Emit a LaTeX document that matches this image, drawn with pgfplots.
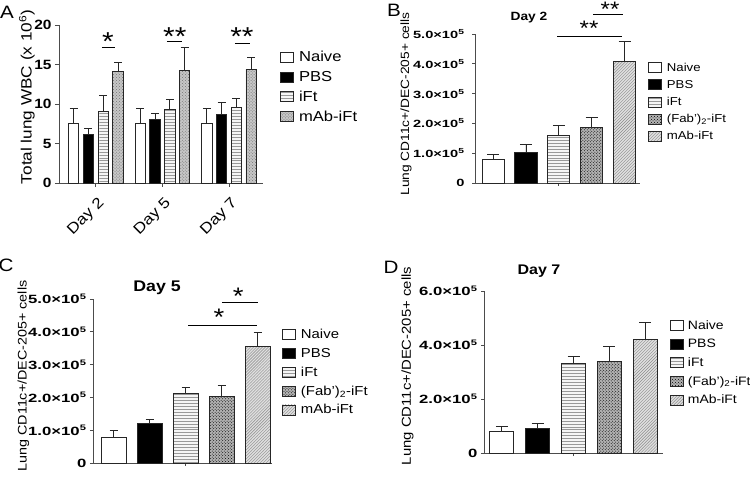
\documentclass[border=0pt]{standalone}
\usepackage{fontspec}
\setmainfont[FakeStretch=1.15]{Liberation Sans}
\newfontfamily\tickfont[FakeStretch=1.4]{Liberation Sans}
\usepackage{pgfplots}
\pgfplotsset{compat=1.18}
\usetikzlibrary{patterns}
\newcommand{\fs}[1]{\fontsize{#1}{#1}\selectfont}
\pgfplotsset{
  panel/.style={scale only axis, axis lines=left,
    axis line style={-, draw=black!70, line width=0.9bp},
    tick style={draw=black!70, line width=0.8bp}, tick align=outside,
    major tick length=4bp, clip=false, ymin=0,
    /pgf/number format/assume math mode=true,
    legend cell align=left,
    legend image code/.code={\draw[##1, draw=black!85, line width=0.8bp] (0bp,-5bp) rectangle (13bp,5bp);}},
  bars/.style={ybar, bar shift=0pt, draw=black!85, line width=0.9bp,
    error bars/y dir=plus, error bars/y explicit,
    error bars/error bar style={draw=black!85, line width=0.9bp, fill=none},
    error bars/error mark options={rotate=90, draw=black!85, line width=0.9bp, mark size=#1}},
  naive/.style={fill=white},
  pbs/.style={fill=black},
  ift/.style={fill=gray!8, postaction={pattern=horizontal lines, pattern color=gray!80}},
  fab/.style={fill=gray!60, postaction={pattern=crosshatch dots, pattern color=black}},
  mab/.style={fill=gray!25, postaction={pattern=north east lines, pattern color=gray!90}},
  mabA/.style={fill=gray!45, postaction={pattern=crosshatch dots, pattern color=black!55}},
}
\begin{document}
\begin{tikzpicture}
\useasboundingbox (0,0) rectangle (750bp,481bp);
% ---------------- Panel A ----------------
\begin{axis}[panel, at={(59bp,298bp)}, anchor=south west, width=204bp, height=158bp,
  xmin=-0.99, xmax=12.8, ymax=20, ytick={0,5,10,15,20}, bar width=0.7,
  xtick={1.5,6,10.5}, xticklabels={Day 2,Day 5,Day 7},
  xticklabel style={rotate=45, anchor=north east, font=\fs{15}, xshift=-2bp, yshift=-4bp},
  yticklabel style={font=\bfseries\fs{13.5}},
  legend style={at={(1.069,0.86)}, anchor=north west, draw=none, fill=none,
    font=\fs{14.5}, row sep=4bp, column sep=3bp}]
\addplot[bars=4bp, naive] coordinates {(0,7.5) +- (0,1.9) (4.5,7.5) +- (0,1.9) (9,7.5) +- (0,1.9)};
\addplot[bars=4bp, pbs] coordinates {(1,6.1) +- (0,0.8) (5.5,8.1) +- (0,0.7) (10,8.7) +- (0,1.5)};
\addplot[bars=4bp, ift] coordinates {(2,9.0) +- (0,2.1) (6.5,9.3) +- (0,1.3) (11,9.6) +- (0,1.1)};
\addplot[bars=4bp, mabA] coordinates {(3,14.1) +- (0,1.1) (7.5,14.3) +- (0,2.9) (12,14.4) +- (0,1.5)};
\legend{Naive,PBS,iFt,mAb-iFt}
\draw[line width=0.9bp] (axis cs:1.91,17.1) -- (axis cs:2.8,17.1);
\draw[line width=0.9bp] (axis cs:6.3,17.9) -- (axis cs:7.3,17.9);
\draw[line width=0.9bp] (axis cs:10.9,17.7) -- (axis cs:11.9,17.7);
\node[anchor=north, inner sep=0, font=\fs{26}] at (axis cs:2.32,19.0) {*};
\node[anchor=north, inner sep=0, font=\fs{26}] at (axis cs:6.84,19.7) {**};
\node[anchor=north, inner sep=0, font=\fs{26}] at (axis cs:11.37,19.7) {**};
\end{axis}
% ---------------- Panel B ----------------
\begin{axis}[panel, at={(475bp,298bp)}, anchor=south west, width=165bp, height=149bp,
  xmin=-0.55, xmax=4.47, ymax=5, ytick={0,1,2,3,4,5}, bar width=0.67,
  yticklabels={0,{1.0×10\textsuperscript{5}},{2.0×10\textsuperscript{5}},{3.0×10\textsuperscript{5}},{4.0×10\textsuperscript{5}},{5.0×10\textsuperscript{5}}},
  yticklabel style={font=\tickfont\bfseries\fs{10.5}, xshift=-4bp},
  xtick={2}, xticklabels={}, major tick length=3bp,
  legend style={at={(1.03,0.835)}, anchor=north west, draw=none, fill=none,
    font=\fs{11.5}, row sep=3.5bp, column sep=3bp}]
\addplot[bars=6bp, naive] coordinates {(0,0.78) +- (0,0.19)};
\addplot[bars=6bp, pbs] coordinates {(1,1.04) +- (0,0.27)};
\addplot[bars=6bp, ift] coordinates {(2,1.59) +- (0,0.33)};
\addplot[bars=6bp, fab] coordinates {(3,1.87) +- (0,0.34)};
\addplot[bars=6bp, mab] coordinates {(4,4.09) +- (0,0.65)};
\legend{Naive,PBS,iFt,(Fab')\textsubscript{2}-iFt,mAb-iFt}
\draw[line width=0.9bp] (axis cs:1.95,4.93) -- (axis cs:3.92,4.93);
\draw[line width=0.9bp] (axis cs:3.04,5.64) -- (axis cs:3.95,5.64);
\node[anchor=north, inner sep=0, font=\fs{21}] at (axis cs:2.92,5.44) {**};
\node[anchor=north, inner sep=0, font=\fs{21}] at (axis cs:3.56,6.09) {**};
\end{axis}
% ---------------- Panel C ----------------
\begin{axis}[panel, at={(93bp,18bp)}, anchor=south west, width=179bp, height=164bp,
  xmin=-0.57, xmax=4.40, ymax=5, ytick={0,1,2,3,4,5}, bar width=0.69,
  yticklabels={0,{1.0×10\textsuperscript{5}},{2.0×10\textsuperscript{5}},{3.0×10\textsuperscript{5}},{4.0×10\textsuperscript{5}},{5.0×10\textsuperscript{5}}},
  yticklabel style={font=\tickfont\bfseries\fs{12}},
  xtick={2}, xticklabels={}, major tick length=3bp,
  legend style={at={(1.039,0.84)}, anchor=north west, draw=none, fill=none,
    font=\fs{13}, row sep=4bp, column sep=3bp}]
\addplot[bars=4bp, naive] coordinates {(0,0.79) +- (0,0.19)};
\addplot[bars=4bp, pbs] coordinates {(1,1.20) +- (0,0.13)};
\addplot[bars=4bp, ift] coordinates {(2,2.12) +- (0,0.19)};
\addplot[bars=4bp, fab] coordinates {(3,2.04) +- (0,0.31)};
\addplot[bars=4bp, mab] coordinates {(4,3.56) +- (0,0.43)};
\legend{Naive,PBS,iFt,(Fab')\textsubscript{2}-iFt,mAb-iFt}
\draw[line width=0.9bp] (axis cs:2.07,4.18) -- (axis cs:3.99,4.18);
\draw[line width=0.9bp] (axis cs:3.01,4.88) -- (axis cs:4.01,4.88);
\node[anchor=north, inner sep=0, font=\fs{24}] at (axis cs:2.93,4.70) {*};
\node[anchor=north, inner sep=0, font=\fs{24}] at (axis cs:3.46,5.34) {*};
\end{axis}
% ---------------- Panel D ----------------
\begin{axis}[panel, at={(484bp,28bp)}, anchor=south west, width=179bp, height=162bp,
  xmin=-0.5, xmax=4.5, ymax=6, ytick={0,2,4,6}, bar width=0.67,
  yticklabels={0,{2.0×10\textsuperscript{5}},{4.0×10\textsuperscript{5}},{6.0×10\textsuperscript{5}}},
  yticklabel style={font=\tickfont\bfseries\fs{12}},
  xtick={2}, xticklabels={}, major tick length=3bp,
  legend style={at={(1.022,0.845)}, anchor=north west, draw=none, fill=none,
    font=\fs{12.2}, row sep=4.5bp, column sep=2bp}]
\addplot[bars=6bp, naive] coordinates {(0,0.80) +- (0,0.19)};
\addplot[bars=6bp, pbs] coordinates {(1,0.90) +- (0,0.19)};
\addplot[bars=6bp, ift] coordinates {(2,3.31) +- (0,0.28)};
\addplot[bars=6bp, fab] coordinates {(3,3.40) +- (0,0.55)};
\addplot[bars=6bp, mab] coordinates {(4,4.20) +- (0,0.64)};
\legend{Naive,PBS,iFt,(Fab')\textsubscript{2}-iFt,mAb-iFt}
\end{axis}
% ---------------- labels ----------------
\node[font=\fs{18}] at (7bp,469bp) {A};
\node[font=\fs{18}] at (394bp,471bp) {B};
\node[font=\fs{18}] at (6bp,216bp) {C};
\node[font=\fs{18}] at (391bp,214bp) {D};
\node[font=\bfseries\fs{12}] at (529bp,463bp) {Day 2};
\node[font=\bfseries\fs{15.5}] at (157bp,193bp) {Day 5};
\node[font=\bfseries\fs{14}] at (539bp,210bp) {Day 7};
\node[rotate=90, font=\fs{15}] at (27bp,384bp) {Total lung WBC (x 10\textsuperscript{6})};
\node[rotate=90, font=\fs{12}] at (406bp,377bp) {Lung CD11c+/DEC-205+ cells};
\node[rotate=90, font=\fs{12.5}] at (23.5bp,105bp) {Lung CD11c+/DEC-205+ cells};
\node[rotate=90, font=\fs{13}] at (407.5bp,115bp) {Lung CD11c+/DEC-205+ cells};
\end{tikzpicture}
\end{document}
